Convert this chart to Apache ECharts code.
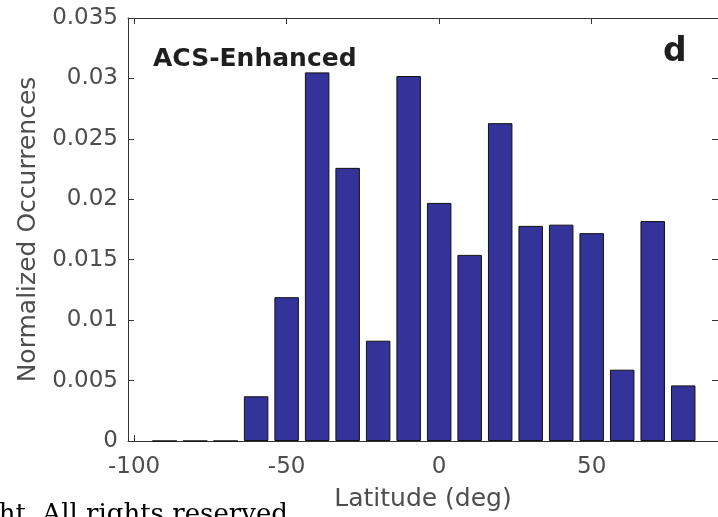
<!DOCTYPE html>
<html>
<head>
<meta charset="utf-8">
<script src="https://cdn.jsdelivr.net/npm/echarts@6/dist/echarts.min.js"></script>
<style>
  html, body { margin: 0; padding: 0; background: #ffffff; }
  #chart { width: 718px; height: 517px; }
</style>
</head>
<body>
<div id="chart"></div>
<script>
// ---- data ----
const latitudes = [-90, -80, -70, -60, -50, -40, -30, -20, -10, 0, 10, 20, 30, 40, 50, 60, 70, 80];
const occurrences = [0, 0, 0, 0.0037, 0.0119, 0.0305, 0.0226, 0.0083, 0.0302, 0.0197, 0.0154, 0.0263, 0.0178, 0.0179, 0.0172, 0.0059, 0.0182, 0.0046];
const xTickValues = [-100, -50, 0, 50];
const yTickLabels = ['0', '0.005', '0.01', '0.015', '0.02', '0.025', '0.03', '0.035'];
const binWidth = 10;

// ---- layout ----
const xMin = -102, xMax = 91.4;
const gridLeft = 128, gridTop = 18, gridWidth = 592, gridHeight = 425;
const pxPerUnit = gridWidth / (xMax - xMin);
const barPx = 0.8 * binWidth * pxPerUnit;

const FONT = 'DejaVu Sans';
const axisColor = '#333333';
const labelColor = '#4d4d4d';

const chart = echarts.init(document.getElementById('chart'), null, { renderer: 'canvas' });

const baseX = {
  type: 'value', min: xMin, max: xMax,
  axisLine: { show: true, onZero: false, lineStyle: { color: axisColor, width: 1 } },
  axisTick: { show: true, inside: true, length: 6, customValues: xTickValues, lineStyle: { color: axisColor } },
  splitLine: { show: false }
};
const baseY = {
  type: 'value', min: 0, max: 0.035, interval: 0.005,
  axisLine: { show: true, onZero: false, lineStyle: { color: axisColor, width: 1 } },
  axisTick: { show: true, inside: true, length: 6, lineStyle: { color: axisColor } },
  splitLine: { show: false }
};

chart.setOption({
  animation: false,
  backgroundColor: '#ffffff',
  grid: { left: gridLeft, top: gridTop, width: gridWidth, height: gridHeight, containLabel: false },
  xAxis: [
    Object.assign({}, baseX, {
      position: 'bottom',
      name: 'Latitude (deg)', nameLocation: 'middle', nameGap: 46,
      nameTextStyle: { fontFamily: FONT, fontSize: 25, color: labelColor },
      axisLabel: { show: true, customValues: xTickValues, margin: 15, fontFamily: FONT, fontSize: 23, color: labelColor }
    }),
    Object.assign({}, baseX, { position: 'top', axisLabel: { show: false } })
  ],
  yAxis: [
    Object.assign({}, baseY, {
      position: 'left',
      name: 'Normalized Occurrences', nameLocation: 'middle', nameRotate: 90, nameGap: 87,
      nameTextStyle: { fontFamily: FONT, fontSize: 25, color: labelColor },
      axisLabel: {
        show: true, margin: 10, fontFamily: FONT, fontSize: 23, color: labelColor,
        formatter: function (v) { return yTickLabels[Math.round(v / 0.005)]; }
      }
    }),
    Object.assign({}, baseY, { position: 'right', axisLabel: { show: false } })
  ],
  graphic: [
    { type: 'text', left: 153, top: 47, style: { text: 'ACS-Enhanced', fontFamily: FONT, fontWeight: 'bold', fontSize: 25, fill: '#1f1f1f' } },
    { type: 'text', left: 663, top: 36, style: { text: 'd', fontFamily: FONT, fontWeight: 'bold', fontSize: 33, fill: '#1f1f1f' } },
    { type: 'text', left: -18, top: 502, style: { text: 'ght. All rights reserved', fontFamily: 'DejaVu Serif', fontSize: 26, fill: '#000000' } }
  ],
  series: [{
    type: 'bar',
    xAxisIndex: 0, yAxisIndex: 0,
    barWidth: barPx,
    data: latitudes.map((x, i) => [x, occurrences[i]]),
    itemStyle: { color: '#333399', borderColor: '#111111', borderWidth: 1 },
    emphasis: { disabled: true }
  }]
});
</script>
</body>
</html>
